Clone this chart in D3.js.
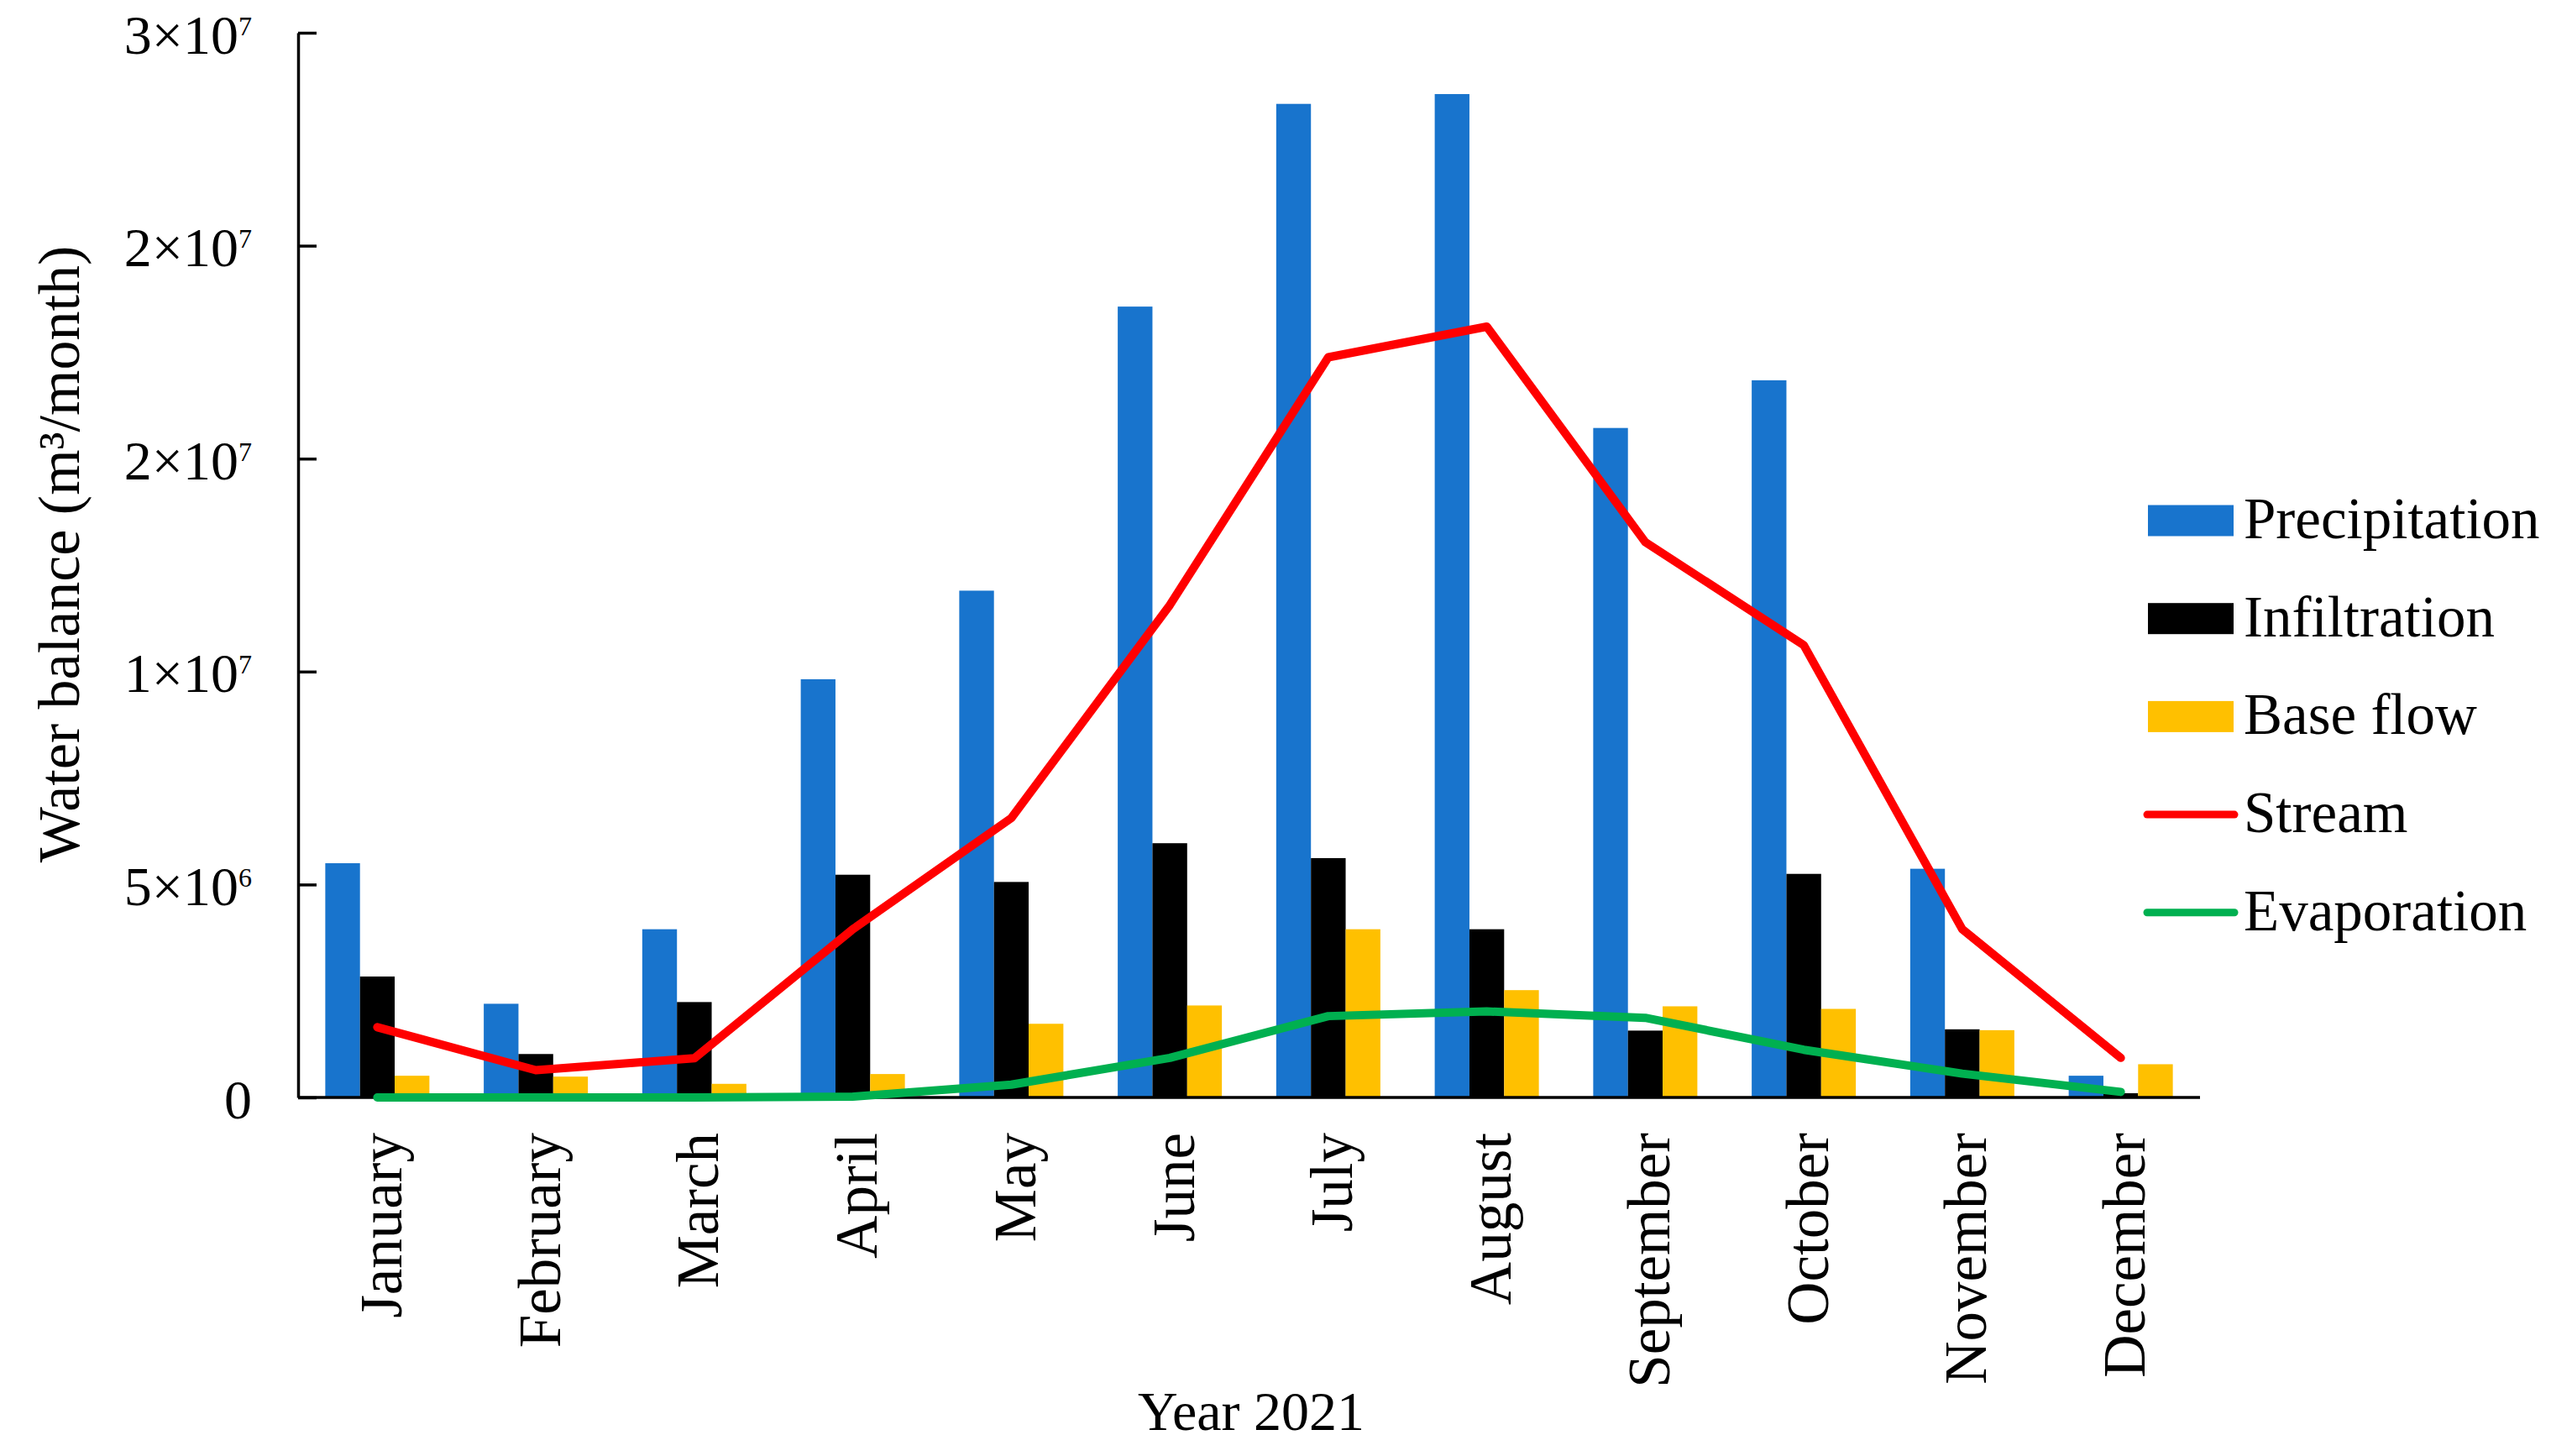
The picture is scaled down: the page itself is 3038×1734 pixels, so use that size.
<!DOCTYPE html>
<html>
<head>
<meta charset="utf-8">
<script src="https://cdn.jsdelivr.net/npm/d3@7"></script>
<style>
  html, body { margin: 0; padding: 0; background: #fff; }
  text { font-family: "Liberation Serif", "DejaVu Serif", serif; fill: #000; }
</style>
</head>
<body>
<svg id="chart" width="3038" height="1734"></svg>
<script>
// data (m3/month)
const months = ["January", "February", "March", "April", "May", "June",
  "July", "August", "September", "October", "November", "December"];
const precipitation = [5.5e6, 2.2e6, 3.95e6, 9.82e6, 11.9e6, 18.57e6, 23.33e6, 23.56e6, 15.72e6, 16.84e6, 5.37e6, 0.51e6];
const infiltration = [2.84e6, 1.02e6, 2.24e6, 5.23e6, 5.06e6, 5.97e6, 5.62e6, 3.95e6, 1.57e6, 5.25e6, 1.6e6, 0.1e6];
const baseFlow = [0.51e6, 0.49e6, 0.32e6, 0.55e6, 1.73e6, 2.16e6, 3.95e6, 2.52e6, 2.14e6, 2.08e6, 1.58e6, 0.78e6];
const stream = [1.65e6, 0.64e6, 0.92e6, 3.95e6, 6.56e6, 11.56e6, 17.38e6, 18.1e6, 13.04e6, 10.62e6, 3.95e6, 0.93e6];
const evaporation = [0, 0, 0, 0.02e6, 0.3e6, 0.93e6, 1.91e6, 2.02e6, 1.87e6, 1.12e6, 0.56e6, 0.13e6];

const yTicks = [0, 5e6, 1e7, 1.5e7, 2e7, 2.5e7];
const yTickBase = ["0", "5×10", "1×10", "2×10", "2×10", "3×10"];
const yTickExp = ["", "6", "7", "7", "7", "7"];

const barSeries = [
  { name: "Precipitation", values: precipitation, color: "#1874CD" },
  { name: "Infiltration", values: infiltration, color: "#000000" },
  { name: "Base flow", values: baseFlow, color: "#FFC000" }
];
const lineSeries = [
  { name: "Stream", values: stream, color: "#FF0000" },
  { name: "Evaporation", values: evaporation, color: "#00B050" }
];

const svg = d3.select("#chart");
const plot = { left: 355, right: 2620, top: 39, bottom: 1307 };
const fs = 66;

const x0 = d3.scaleBand().domain(months).range([plot.left, plot.right])
  .paddingInner(0.343).paddingOuter(0.1715);
const x1 = d3.scaleBand().domain(barSeries.map(s => s.name)).range([0, x0.bandwidth()]);
const y = d3.scaleLinear().domain([0, 2.5e7]).range([plot.bottom, plot.top]);

// bars
const groups = svg.append("g").selectAll("g")
  .data(months)
  .join("g")
  .attr("transform", d => `translate(${x0(d)},0)`);

groups.selectAll("rect")
  .data((m, i) => barSeries.map(s => ({ s: s, v: s.values[i] })))
  .join("rect")
  .attr("x", d => x1(d.s.name))
  .attr("width", x1.bandwidth())
  .attr("y", d => y(d.v))
  .attr("height", d => plot.bottom - y(d.v))
  .attr("fill", d => d.s.color);

// y axis, ticks pointing inward
const yAxis = svg.append("g")
  .attr("transform", `translate(${plot.left},0)`)
  .call(d3.axisLeft(y).tickValues(yTicks).tickSizeInner(-22).tickSizeOuter(0)
    .tickPadding(55).tickFormat(() => ""));
yAxis.select(".domain").attr("stroke-width", 3.5);
yAxis.selectAll(".tick line").attr("stroke-width", 3.5);
yAxis.selectAll(".tick text").each(function (d, i) {
  const t = d3.select(this)
    .attr("font-size", fs)
    .attr("font-family", "Liberation Serif")
    .attr("dy", 24);
  t.append("tspan").text(yTickBase[i]);
  if (yTickExp[i]) {
    t.append("tspan").attr("font-size", 32).attr("dy", -22).text(yTickExp[i]);
  }
});

// x axis line
svg.append("line")
  .attr("x1", plot.left).attr("x2", plot.right)
  .attr("y1", plot.bottom).attr("y2", plot.bottom)
  .attr("stroke", "#000").attr("stroke-width", 3.5);

// lines
const line = d3.line()
  .x((d, i) => x0(months[i]) + x0.bandwidth() / 2)
  .y(d => y(d));

lineSeries.forEach(s => {
  svg.append("path")
    .datum(s.values)
    .attr("d", line)
    .attr("fill", "none")
    .attr("stroke", s.color)
    .attr("stroke-width", 10)
    .attr("stroke-linejoin", "round")
    .attr("stroke-linecap", "round");
});

// month labels
svg.append("g").selectAll("text")
  .data(months)
  .join("text")
  .attr("transform", d => `translate(${x0(d) + x0.bandwidth() / 2},1349) rotate(-90)`)
  .attr("text-anchor", "end")
  .attr("dy", "0.4em")
  .attr("font-size", 71)
  .text(d => d);

// axis titles
svg.append("text")
  .attr("x", 1490).attr("y", 1703)
  .attr("text-anchor", "middle")
  .attr("font-size", fs)
  .text("Year 2021");

svg.append("text")
  .attr("transform", "translate(94,660) rotate(-90)")
  .attr("text-anchor", "middle")
  .attr("font-size", 70)
  .text("Water balance (m³/month)");

// legend
const legendItems = barSeries.map(s => ({ name: s.name, color: s.color, type: "rect" }))
  .concat(lineSeries.map(s => ({ name: s.name, color: s.color, type: "line" })));

const legend = svg.append("g").selectAll("g")
  .data(legendItems)
  .join("g")
  .attr("transform", (d, i) => `translate(0,${620 + i * 116.7})`);

legend.filter(d => d.type === "rect").append("rect")
  .attr("x", 2558).attr("y", -18.5)
  .attr("width", 102).attr("height", 37)
  .attr("fill", d => d.color);

legend.filter(d => d.type === "line").append("line")
  .attr("x1", 2557).attr("x2", 2661)
  .attr("y1", 0).attr("y2", 0)
  .attr("stroke", d => d.color)
  .attr("stroke-width", 9)
  .attr("stroke-linecap", "round");

legend.append("text")
  .attr("x", 2672).attr("y", 21)
  .attr("font-size", 69)
  .text(d => d.name);
</script>
</body>
</html>
